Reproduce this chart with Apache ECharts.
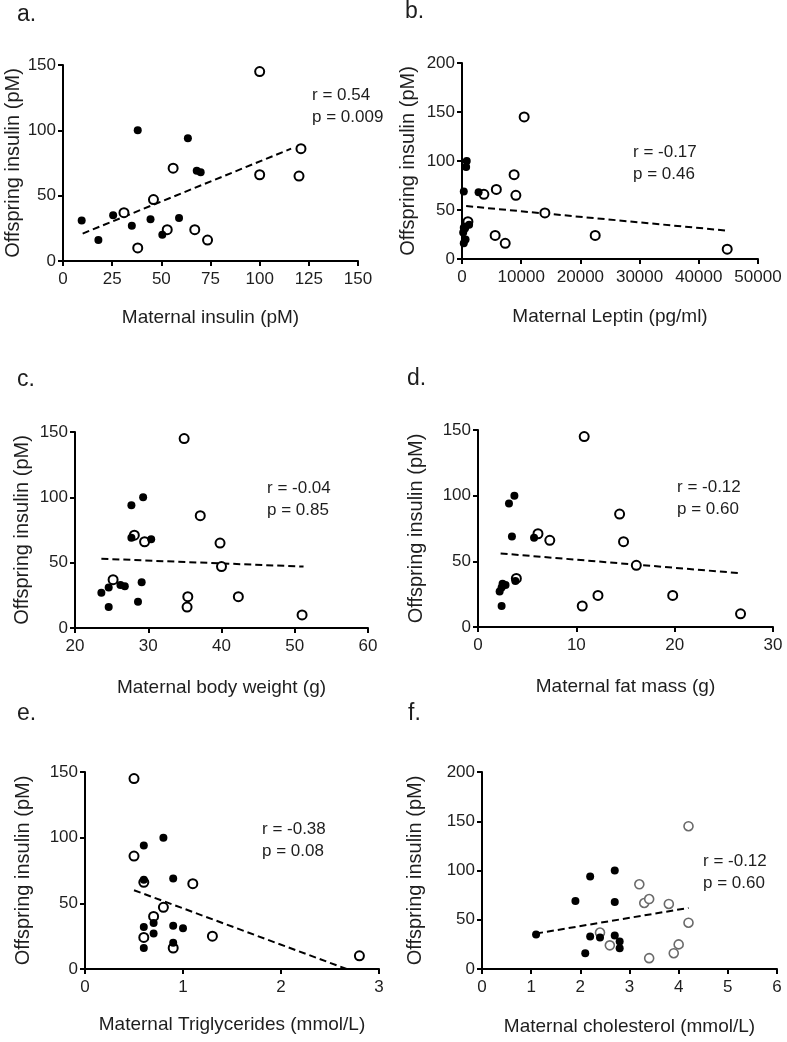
<!DOCTYPE html>
<html><head><meta charset="utf-8">
<script src="https://cdn.jsdelivr.net/npm/echarts@6/dist/echarts.min.js"></script>
<style>html,body{margin:0;padding:0;background:#fff}#c{width:787px;height:1042px}</style>
</head><body><div id="c"></div>
<script>
// ---- Panel a: Maternal insulin ----
const aFilledX = [9.5, 18, 25.5, 35, 38, 44.5, 50.5, 59, 63.5, 68, 70];
const aFilledY = [31, 16, 35, 27, 100, 32, 20, 33, 94, 69, 68];
const aOpenX = [31, 38, 46, 53, 56, 67, 73.5, 100, 100, 121, 120];
const aOpenY = [37, 10, 47, 24, 71, 24, 16, 145, 66, 86, 65];
const aTrendX = [10, 116];
const aTrendY = [21, 86];
const aStats = ['r = 0.54', 'p = 0.009'];
// ---- Panel b: Maternal leptin ----
const bFilledX = [800, 700, 300, 2800, 1200, 600, 300, 500, 200, 600, 300];
const bFilledY = [100, 94, 69, 68, 35, 33, 32, 31, 27, 20, 16];
const bOpenX = [10500, 8800, 5800, 3700, 9100, 14000, 1000, 5600, 7300, 22500, 44800];
const bOpenY = [145, 86, 71, 66, 65, 47, 38, 24, 16, 24, 10];
const bTrendX = [700, 44700];
const bTrendY = [54, 29];
const bStats = ['r = -0.17', 'p = 0.46'];
// ---- Panel c: Maternal body weight ----
const cFilledX = [23.6, 24.6, 24.6, 26.2, 26.8, 27.7, 27.7, 28.6, 29.1, 29.3, 30.4];
const cFilledY = [27, 31, 16, 33, 32, 94, 69, 20, 35, 100, 68];
const cOpenX = [25.2, 28.1, 29.5, 34.9, 35.4, 35.3, 37.1, 39.8, 40, 42.3, 51];
const cOpenY = [37, 71, 66, 145, 24, 16, 86, 65, 47, 24, 10];
const cTrendX = [23.6, 51.2];
const cTrendY = [53, 47];
const cStats = ['r = -0.04', 'p = 0.85'];
// ---- Panel d: Maternal fat mass ----
const dFilledX = [2.2, 2.5, 2.8, 2.4, 2.4, 3.15, 3.7, 3.45, 3.8, 5.7];
const dFilledY = [27, 33, 32, 30, 16, 94, 100, 69, 35, 68];
const dOpenX = [3.9, 6.1, 7.3, 10.8, 10.6, 12.2, 14.4, 14.8, 16.1, 19.8, 26.7];
const dOpenY = [37, 71, 66, 145, 16, 24, 86, 65, 47, 24, 10];
const dTrendX = [2.3, 26.6];
const dTrendY = [56, 41];
const dStats = ['r = -0.12', 'p = 0.60'];
// ---- Panel e: Maternal triglycerides ----
const eFilledX = [0.8, 0.6, 0.6, 0.9, 0.7, 0.6, 0.9, 1.0, 0.7, 0.9, 0.6];
const eFilledY = [100, 94, 68, 69, 35, 32, 33, 31, 27, 20, 16];
const eOpenX = [0.5, 0.5, 0.6, 1.1, 0.8, 0.7, 0.6, 1.3, 0.9, 2.8];
const eOpenY = [145, 86, 66, 65, 47, 40, 24, 25, 16, 10];
const eTrendX = [0.5, 2.67];
const eTrendY = [60, 0];
const eStats = ['r = -0.38', 'p = 0.08'];
// ---- Panel f: Maternal cholesterol ----
const fFilledX = [1.1, 1.9, 2.2, 2.2, 2.1, 2.4, 2.7, 2.7, 2.7, 2.8, 2.8];
const fFilledY = [35, 69, 94, 33, 16, 32, 100, 68, 34, 28, 21];
const fOpenX = [2.4, 2.6, 3.2, 3.3, 3.4, 3.4, 3.8, 3.9, 4.0, 4.2, 4.2];
const fOpenY = [37, 24, 86, 67, 71, 11, 66, 16, 25, 47, 145];
const fTrendX = [1.1, 4.2];
const fTrendY = [36, 62];
const fStats = ['r = -0.12', 'p = 0.60'];

const yName = 'Offspring insulin (pM)';
const FONT = '"Liberation Sans", Arial, Helvetica, sans-serif';
const TXT = '#1e1e1e';

const panels = [
  {letter:'a.', grid:{left:63, top:65, width:295, height:196},
   x:{min:0, max:150, interval:25, name:'Maternal insulin (pM)', gap:47},
   y:{min:0, max:150, interval:50, gap:38},
   filled:[aFilledX,aFilledY], open:[aOpenX,aOpenY], trend:[aTrendX,aTrendY], stats:aStats,
   openColor:'#000', openWidth:2, letterPos:[17,15], statPos:[312,95]},
  {letter:'b.', grid:{left:462, top:63, width:296, height:196},
   x:{min:0, max:50000, interval:10000, name:'Maternal Leptin (pg/ml)', gap:48},
   y:{min:0, max:200, interval:50, gap:44},
   filled:[bFilledX,bFilledY], open:[bOpenX,bOpenY], trend:[bTrendX,bTrendY], stats:bStats,
   openColor:'#000', openWidth:2, letterPos:[405,12], statPos:[633,152]},
  {letter:'c.', grid:{left:75, top:432, width:293, height:196},
   x:{min:20, max:60, interval:10, name:'Maternal body weight (g)', gap:50},
   y:{min:0, max:150, interval:50, gap:43},
   filled:[cFilledX,cFilledY], open:[cOpenX,cOpenY], trend:[cTrendX,cTrendY], stats:cStats,
   openColor:'#000', openWidth:2, letterPos:[17,380], statPos:[267,488]},
  {letter:'d.', grid:{left:478, top:430, width:295, height:197},
   x:{min:0, max:30, interval:10, name:'Maternal fat mass (g)', gap:50},
   y:{min:0, max:150, interval:50, gap:52},
   filled:[dFilledX,dFilledY], open:[dOpenX,dOpenY], trend:[dTrendX,dTrendY], stats:dStats,
   openColor:'#000', openWidth:2, letterPos:[407,379], statPos:[677,487]},
  {letter:'e.', grid:{left:85, top:772, width:294, height:197},
   x:{min:0, max:3, interval:1, name:'Maternal Triglycerides (mmol/L)', gap:46},
   y:{min:0, max:150, interval:50, gap:52},
   filled:[eFilledX,eFilledY], open:[eOpenX,eOpenY], trend:[eTrendX,eTrendY], stats:eStats,
   openColor:'#000', openWidth:2, letterPos:[17,714], statPos:[262,829]},
  {letter:'f.', grid:{left:482, top:772, width:295, height:197},
   x:{min:0, max:6, interval:1, name:'Maternal cholesterol (mmol/L)', gap:48},
   y:{min:0, max:200, interval:50, gap:57},
   filled:[fFilledX,fFilledY], open:[fOpenX,fOpenY], trend:[fTrendX,fTrendY], stats:fStats,
   openColor:'#6a6a6a', openWidth:1.6, letterPos:[408,714], statPos:[703,861]}
];

function zip(xs, ys){ return xs.map((x,i)=>[x, ys[i]]); }
const plain = v => String(v);

const grids = [], xAxes = [], yAxes = [], series = [], graphics = [];
panels.forEach((p, i) => {
  grids.push(Object.assign({outerBoundsMode:'none', containLabel:false}, p.grid));
  const axisCommon = {
    type:'value', gridIndex:i, nameLocation:'middle',
    axisLine:{show:true, onZero:false, lineStyle:{color:'#000', width:2}},
    axisTick:{show:true, inside:false, length:5, lineStyle:{color:'#000', width:2}},
    splitLine:{show:false}
  };
  xAxes.push(Object.assign({}, axisCommon, {
    min:p.x.min, max:p.x.max, interval:p.x.interval, name:p.x.name, nameGap:p.x.gap,
    nameTextStyle:{fontSize:19, color:TXT, fontFamily:FONT},
    axisLabel:{fontSize:17, color:TXT, fontFamily:FONT, margin:10, formatter:plain,
               showMinLabel:true, showMaxLabel:true, hideOverlap:false}
  }));
  yAxes.push(Object.assign({}, axisCommon, {
    min:p.y.min, max:p.y.max, interval:p.y.interval, name:yName, nameGap:p.y.gap,
    nameTextStyle:{fontSize:20, color:TXT, fontFamily:FONT},
    axisLabel:{fontSize:17, color:TXT, fontFamily:FONT, margin:7, formatter:plain,
               showMinLabel:true, showMaxLabel:true, hideOverlap:false}
  }));
  series.push({
    type:'line', xAxisIndex:i, yAxisIndex:i, data:zip(p.trend[0], p.trend[1]),
    showSymbol:false, symbol:'none', silent:true, z:1,
    lineStyle:{color:'#000', width:2, type:[7,4]}
  });
  series.push({
    type:'scatter', xAxisIndex:i, yAxisIndex:i, data:zip(p.open[0], p.open[1]),
    symbol:'circle', symbolSize:9, z:2,
    itemStyle:{color:'#fff', borderColor:p.openColor, borderWidth:p.openWidth, opacity:1}
  });
  series.push({
    type:'scatter', xAxisIndex:i, yAxisIndex:i, data:zip(p.filled[0], p.filled[1]),
    symbol:'circle', symbolSize:8, z:3,
    itemStyle:{color:'#000', opacity:1}
  });
  graphics.push({type:'text', x:p.letterPos[0], y:p.letterPos[1],
    style:{text:p.letter, fontSize:23, fontFamily:FONT, fill:TXT, align:'left', verticalAlign:'middle'}});
  graphics.push({type:'text', x:p.statPos[0], y:p.statPos[1],
    style:{text:p.stats[0], fontSize:17, fontFamily:FONT, fill:TXT, align:'left', verticalAlign:'middle'}});
  graphics.push({type:'text', x:p.statPos[0], y:p.statPos[1] + 22,
    style:{text:p.stats[1], fontSize:17, fontFamily:FONT, fill:TXT, align:'left', verticalAlign:'middle'}});
});

const chart = echarts.init(document.getElementById('c'), null, {renderer:'canvas'});
chart.setOption({
  backgroundColor:'#fff',
  animation:false,
  grid:grids, xAxis:xAxes, yAxis:yAxes, series:series, graphic:graphics
});
</script></body></html>
